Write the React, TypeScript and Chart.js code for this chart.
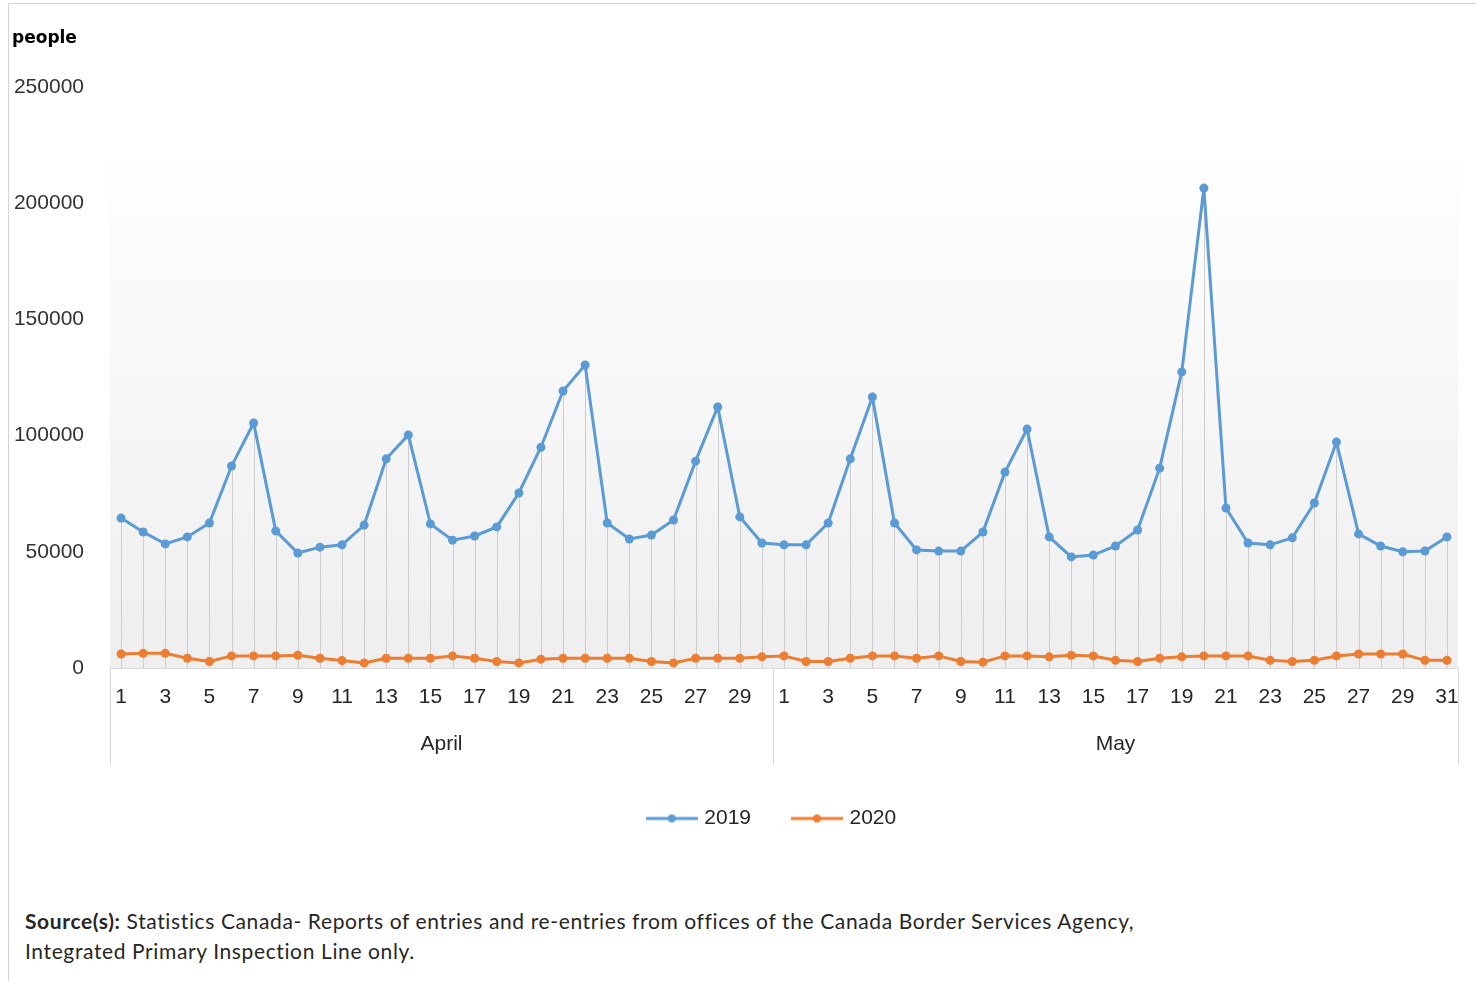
import React, { useEffect, useRef } from "react";
import { Chart, registerables } from "chart.js";

Chart.register(...registerables);

const aprilDays = ["1","2","3","4","5","6","7","8","9","10","11","12","13","14","15","16","17","18","19","20","21","22","23","24","25","26","27","28","29","30"];
const mayDays = ["1","2","3","4","5","6","7","8","9","10","11","12","13","14","15","16","17","18","19","20","21","22","23","24","25","26","27","28","29","30","31"];
const months = ["April", "May"];
const seriesNames = ["2019", "2020"];

const travellers2019April = [64500, 58500, 53400, 56400, 62400, 86900, 105400, 59000, 49500, 52000, 53000, 61500, 90000, 100300, 62000, 55000, 56800, 60700, 75300, 95000, 119200, 130400, 62400, 55500, 57200, 63700, 89000, 112300, 65000, 53800];
const travellers2019May = [53000, 53000, 62400, 90000, 116600, 62400, 50800, 50300, 50300, 58500, 84300, 102800, 56400, 47800, 48600, 52500, 59400, 86000, 127400, 206500, 68800, 53800, 53000, 56000, 71000, 97200, 57700, 52500, 50000, 50300, 56400];
const travellers2020April = [6000, 6300, 6300, 4200, 2800, 5200, 5200, 5200, 5500, 4200, 3200, 2200, 4200, 4200, 4200, 5200, 4200, 2800, 2200, 3800, 4200, 4200, 4200, 4200, 2800, 2200, 4200, 4200, 4200, 4800];
const travellers2020May = [5200, 2800, 2800, 4200, 5200, 5200, 4200, 5200, 2800, 2500, 5200, 5200, 4800, 5500, 5200, 3300, 2800, 4200, 4800, 5200, 5200, 5200, 3300, 2800, 3300, 5200, 6000, 6000, 6000, 3300, 3300];

const yMin = 0;
const yMax = 250000;
const yStep = 50000;

const BLUE = "#5b9bd5";
const ORANGE = "#ed7d31";
const FONT = "'Liberation Sans', Arial, sans-serif";

function legendMarker(color: string): HTMLCanvasElement {
  const c = document.createElement("canvas");
  c.width = 52;
  c.height = 12;
  const g = c.getContext("2d")!;
  g.strokeStyle = color;
  g.lineWidth = 3;
  g.beginPath();
  g.moveTo(0, 6);
  g.lineTo(52, 6);
  g.stroke();
  g.fillStyle = color;
  g.beginPath();
  g.arc(26, 6, 4, 0, Math.PI * 2);
  g.fill();
  return c;
}

export default function App() {
  const ref = useRef<HTMLCanvasElement | null>(null);

  useEffect(() => {
    if (!ref.current) return;
    const labels = [...aprilDays, ...mayDays];
    const groups = [
      { name: months[0], start: 0, end: aprilDays.length - 1 },
      { name: months[1], start: aprilDays.length, end: labels.length - 1 },
    ];
    const markers = [legendMarker(BLUE), legendMarker(ORANGE)];

    const background = {
      id: "plotBackground",
      beforeDatasetsDraw(chart: any) {
        const { ctx, chartArea } = chart;
        const top = chartArea.top + (chartArea.bottom - chartArea.top) * 0.125;
        const grad = ctx.createLinearGradient(0, top, 0, chartArea.bottom);
        grad.addColorStop(0, "#fefefe");
        grad.addColorStop(1, "#eeeeee");
        ctx.save();
        ctx.fillStyle = grad;
        ctx.fillRect(chartArea.left, top, chartArea.right - chartArea.left, chartArea.bottom - top);
        // drop lines from 2019 series
        const meta = chart.getDatasetMeta(0);
        ctx.strokeStyle = "#cdcdcd";
        ctx.lineWidth = 1;
        meta.data.forEach((pt: any) => {
          const x = Math.round(pt.x) + 0.5;
          ctx.beginPath();
          ctx.moveTo(x, pt.y);
          ctx.lineTo(x, chartArea.bottom);
          ctx.stroke();
        });
        ctx.restore();
      },
    };

    const legendShift = {
      id: "legendShift",
      afterLayout(chart: any) {
        const lg = chart.legend;
        if (lg) {
          lg.left += 44;
          lg.right += 44;
        }
      },
    };

    const monthAxis = {
      id: "monthAxis",
      afterDraw(chart: any) {
        const { ctx, chartArea } = chart;
        const xs = chart.scales.x;
        const half = (xs.getPixelForValue(1) - xs.getPixelForValue(0)) / 2;
        ctx.save();
        ctx.strokeStyle = "#d9d9d9";
        ctx.lineWidth = 1;
        const bounds: number[] = [];
        groups.forEach((g) => {
          bounds.push(xs.getPixelForValue(g.start) - half);
        });
        bounds.push(xs.getPixelForValue(groups[groups.length - 1].end) + half);
        bounds.forEach((b) => {
          const x = Math.round(b) + 0.5;
          ctx.beginPath();
          ctx.moveTo(x, chartArea.bottom);
          ctx.lineTo(x, chartArea.bottom + 97);
          ctx.stroke();
        });
        ctx.fillStyle = "#262626";
        ctx.font = `21px ${FONT}`;
        ctx.textAlign = "center";
        ctx.textBaseline = "middle";
        groups.forEach((g) => {
          const l = xs.getPixelForValue(g.start) - half;
          const r = xs.getPixelForValue(g.end) + half;
          ctx.fillText(g.name, (l + r) / 2, chartArea.bottom + 76);
        });
        ctx.restore();
      },
    };

    const chart = new Chart(ref.current, {
      type: "line",
      data: {
        labels,
        datasets: [
          {
            label: seriesNames[0],
            data: [...travellers2019April, ...travellers2019May],
            borderColor: BLUE,
            backgroundColor: BLUE,
            borderWidth: 3,
            pointRadius: 4.5,
            pointBorderWidth: 0,
            pointBackgroundColor: BLUE,
            tension: 0,
          },
          {
            label: seriesNames[1],
            data: [...travellers2020April, ...travellers2020May],
            borderColor: ORANGE,
            backgroundColor: ORANGE,
            borderWidth: 3,
            pointRadius: 4.5,
            pointBorderWidth: 0,
            pointBackgroundColor: ORANGE,
            tension: 0,
          },
        ],
      },
      options: {
        animation: false,
        responsive: false,
        maintainAspectRatio: false,
        layout: { padding: { top: 87, right: 18, left: 0, bottom: 3 } },
        scales: {
          x: {
            type: "category",
            offset: true,
            grid: { display: false, drawTicks: false },
            border: { display: true, color: "#d9d9d9", width: 1 },
            ticks: {
              autoSkip: false,
              maxRotation: 0,
              padding: 17,
              color: "#262626",
              font: { family: FONT, size: 21 },
              callback: (_v: any, i: number) => (Number(labels[i]) % 2 === 1 ? labels[i] : ""),
            },
            afterFit: (s: any) => {
              s.height = 96;
            },
          },
          y: {
            min: yMin,
            max: yMax,
            grid: { display: false, drawTicks: false },
            border: { display: false },
            ticks: {
              stepSize: yStep,
              padding: 26,
              color: "#333333",
              font: { family: FONT, size: 21 },
              callback: (v: any) => String(v),
            },
            afterFit: (s: any) => {
              s.width = 110;
            },
          },
        },
        plugins: {
          legend: {
            position: "bottom",
            labels: {
              usePointStyle: true,
              pointStyleWidth: 44,
              padding: 44,
              color: "#262626",
              font: { family: FONT, size: 21 },
              generateLabels: (c: any) => {
                const items = (Chart.defaults.plugins.legend.labels as any).generateLabels(c);
                return items.map((it: any, i: number) => ({ ...it, pointStyle: markers[i], lineWidth: 0 }));
              },
            },
          },
          tooltip: { enabled: false },
          title: { display: false },
        },
      },
      plugins: [background, monthAxis, legendShift],
    } as any);

    return () => chart.destroy();
  }, []);

  return (
    <div style={{ position: "absolute", left: 0, top: 0, width: 1476, height: 981, background: "#ffffff", overflow: "hidden" }}>
      <div style={{ position: "absolute", left: 8, top: 3, width: 1468, height: 978, borderLeft: "1px solid #d4d4d4", borderTop: "1px solid #d4d4d4" }} />
      <canvas ref={ref} width={1476} height={842} style={{ position: "absolute", left: 0, top: 0, width: 1476, height: 842 }} />
      <div style={{ position: "absolute", left: 12, top: 27, fontFamily: "'DejaVu Sans', Verdana, sans-serif", fontWeight: "bold", fontSize: 17, lineHeight: "20px", color: "#000" }}>
        people
      </div>
      <div style={{ position: "absolute", left: 25, top: 906, fontFamily: "Lato, 'Liberation Sans', sans-serif", fontSize: 21, letterSpacing: "0.62px", lineHeight: "30px", color: "#262626", whiteSpace: "nowrap" }}>
        <div>
          <b>Source(s):</b> Statistics Canada- Reports of entries and re-entries from offices of the Canada Border Services Agency,
        </div>
        <div>Integrated Primary Inspection Line only.</div>
      </div>
    </div>
  );
}
